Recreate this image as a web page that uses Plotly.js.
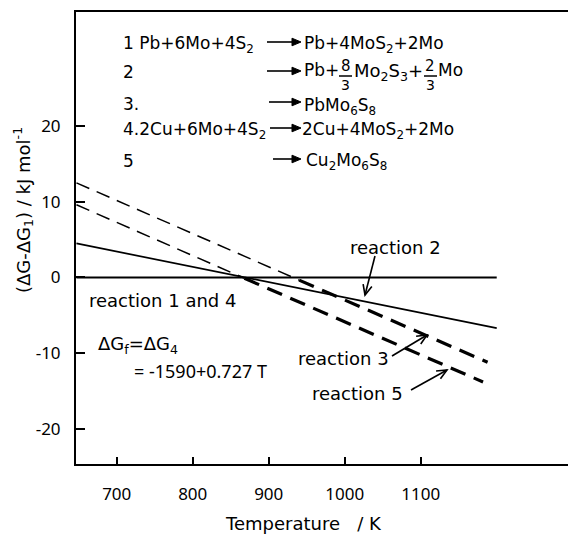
<!DOCTYPE html>
<html>
<head>
<meta charset="utf-8">
<script src="https://cdn.plot.ly/plotly-3.0.1.min.js"></script>
<style>html,body{margin:0;padding:0;background:#fff;}#chart{width:568px;height:535px;}</style>
</head>
<body>
<div id="chart"></div>
<script>
// ---- data ----
const r14T = [647, 1200];          // reaction 1 and 4 (reference, ΔG - ΔG1 = 0)
const r14G = [0, 0];
const r2T = [647, 1200];           // reaction 2
const r2G = [4.5, -6.7];
const r3T = [647, 940, 1188];      // reaction 3 (thin dashed, then heavy dashed)
const r3G = [12.5, -0.35, -11.2];
const r5T = [647, 868, 1182];      // reaction 5 (thin dashed, then heavy dashed)
const r5G = [9.6, -0.1, -13.8];
const xTicks = [700, 800, 900, 1000, 1100];
const yTicks = [-20, -10, 0, 10, 20];

// ---- layout helpers (pixel -> paper) ----
const L = 76, T = 12, W = 492, H = 452;
const px = x => (x - L) / W;
const py = y => (T + H - y) / H;
const FONT = 'DejaVu Sans';

const ann = [];
const shapes = [];
function txt(text, x, y, xanchor, size, family) {
  ann.push({text: text, x: px(x), y: py(y), xref: 'paper', yref: 'paper',
    xanchor: xanchor || 'left', yanchor: 'middle', showarrow: false, borderpad: 0,
    font: {family: family || FONT, size: size || 17, color: '#000'}});
}
function P(x, y) { return px(x).toFixed(5) + ' ' + py(y).toFixed(5); }
function arrow(x0, y0, x1, y1, open) {
  const dx = x1 - x0, dy = y1 - y0, len = Math.hypot(dx, dy);
  const ux = dx / len, uy = dy / len;
  const h = open ? 10 : 9, w = open ? 4.5 : 3.8;
  const bx = x1 - ux * h, by = y1 - uy * h;
  const ax = bx - uy * w, ay = by + ux * w, cx = bx + uy * w, cy = by - ux * w;
  const endx = open ? x1 : bx + ux, endy = open ? y1 : by + uy;
  shapes.push({type: 'path', xref: 'paper', yref: 'paper',
    path: 'M ' + P(x0, y0) + ' L ' + P(endx, endy), line: {color: '#000', width: 1.6}});
  if (open) {
    shapes.push({type: 'path', xref: 'paper', yref: 'paper',
      path: 'M ' + P(ax, ay) + ' L ' + P(x1, y1) + ' L ' + P(cx, cy), line: {color: '#000', width: 1.6}});
  } else {
    shapes.push({type: 'path', xref: 'paper', yref: 'paper', fillcolor: '#000',
      path: 'M ' + P(x1, y1) + ' L ' + P(ax, ay) + ' L ' + P(cx, cy) + ' Z', line: {color: '#000', width: 1}});
  }
}
function bar(x0, x1, y) {
  shapes.push({type: 'line', xref: 'paper', yref: 'paper', x0: px(x0), x1: px(x1), y0: py(y), y1: py(y),
    line: {color: '#000', width: 1.5}});
}

// equation block
txt('1 Pb+6Mo+4S<sub>2</sub>', 122, 44);
txt('2', 122, 72);
txt('3.', 122, 104);
txt('4.2Cu+6Mo+4S<sub>2</sub>', 122, 130);
txt('5', 122, 161);
arrow(267, 42, 301, 42);
arrow(267, 71, 301, 71);
arrow(269, 102, 301, 102);
arrow(270, 128, 301, 128);
arrow(273, 159, 301, 159);
txt('Pb+4MoS<sub>2</sub>+2Mo', 303, 44);
txt('Pb+', 303, 70);
txt('8', 345.5, 66, 'center', 15);
txt('3', 345.5, 85, 'center', 14);
bar(339, 352, 76);
txt('Mo<sub>2</sub>S<sub>3</sub>+', 353, 72, 'left', 18);
txt('2', 430, 66, 'center', 15);
txt('3', 430, 85, 'center', 14);
bar(424, 437, 76);
txt('Mo', 437, 70);
txt('PbMo<sub>6</sub>S<sub>8</sub>', 303, 106);
txt('2Cu+4MoS<sub>2</sub>+2Mo', 301, 130);
txt('Cu<sub>2</sub>Mo<sub>6</sub>S<sub>8</sub>', 305, 162);

// curve labels
txt('reaction 2', 395, 247, 'center', 18);
arrow(375, 256, 365, 295, true);
txt('reaction 3', 343, 358, 'center', 18);
arrow(392, 356, 427, 335, true);
txt('reaction 5', 357, 393, 'center', 18);
arrow(411, 390, 447, 370, true);
txt('reaction 1 and 4', 88, 300, 'left', 18);
txt('ΔG<sub>f</sub>=ΔG<sub>4</sub>', 97, 345, 'left', 18);
txt('= -1590+0.727 T', 133, 371, 'left', 18, 'Noto Sans');

// axis titles
ann.push({text: '(ΔG-ΔG<sub>1</sub>)\u00A0/\u00A0kJ\u00A0mol<sup>-1</sup>', textangle: -90,
  x: px(23), y: py(210), xref: 'paper', yref: 'paper', xanchor: 'center', yanchor: 'middle',
  showarrow: false, font: {family: FONT, size: 18, color: '#000'}});
ann.push({text: 'Temperature\u00A0\u00A0\u00A0/\u00A0K', x: px(303), y: py(523), xref: 'paper', yref: 'paper',
  xanchor: 'center', yanchor: 'middle', showarrow: false, font: {family: FONT, size: 18, color: '#000'}});

const thin = '14px,8px', thick = '16px,9px';
const traces = [
  {x: r14T, y: r14G, mode: 'lines', line: {color: '#000', width: 2}, name: 'reaction 1 and 4'},
  {x: r2T, y: r2G, mode: 'lines', line: {color: '#000', width: 1.7}, name: 'reaction 2'},
  {x: r3T.slice(0, 2), y: r3G.slice(0, 2), mode: 'lines', line: {color: '#000', width: 1.5, dash: thin}, name: 'reaction 3'},
  {x: r3T.slice(1), y: r3G.slice(1), mode: 'lines', line: {color: '#000', width: 3.2, dash: thick}, name: 'reaction 3'},
  {x: r5T.slice(0, 2), y: r5G.slice(0, 2), mode: 'lines', line: {color: '#000', width: 1.5, dash: thin}, name: 'reaction 5'},
  {x: r5T.slice(1), y: r5G.slice(1), mode: 'lines', line: {color: '#000', width: 3.2, dash: thick}, name: 'reaction 5'}
];

const layout = {
  width: 568, height: 535,
  margin: {l: L, r: 0, t: T, b: 535 - T - H},
  paper_bgcolor: '#fff', plot_bgcolor: '#fff',
  showlegend: false,
  xaxis: {range: [646.4, 1293.8], tickvals: xTicks, ticktext: xTicks.map(String),
    ticks: 'inside', ticklen: 7, tickwidth: 2, tickcolor: '#000',
    showline: true, linewidth: 2, linecolor: '#000', mirror: true,
    showgrid: false, zeroline: false, ticklabelstandoff: 14,
    tickfont: {family: 'Noto Sans', size: 17, color: '#000'}},
  yaxis: {range: [-24.64, 35.07], tickvals: yTicks, ticktext: yTicks.map(v => v < 0 ? '-' + Math.abs(v) : String(v)),
    ticks: 'inside', ticklen: 9, tickwidth: 2, tickcolor: '#000',
    showline: true, linewidth: 2, linecolor: '#000', mirror: false,
    showgrid: false, zeroline: false, ticklabelstandoff: 10,
    tickfont: {family: 'Noto Sans', size: 17, color: '#000'}},
  annotations: ann,
  shapes: shapes
};

Plotly.newPlot('chart', traces, layout, {staticPlot: true});
</script>
</body>
</html>
